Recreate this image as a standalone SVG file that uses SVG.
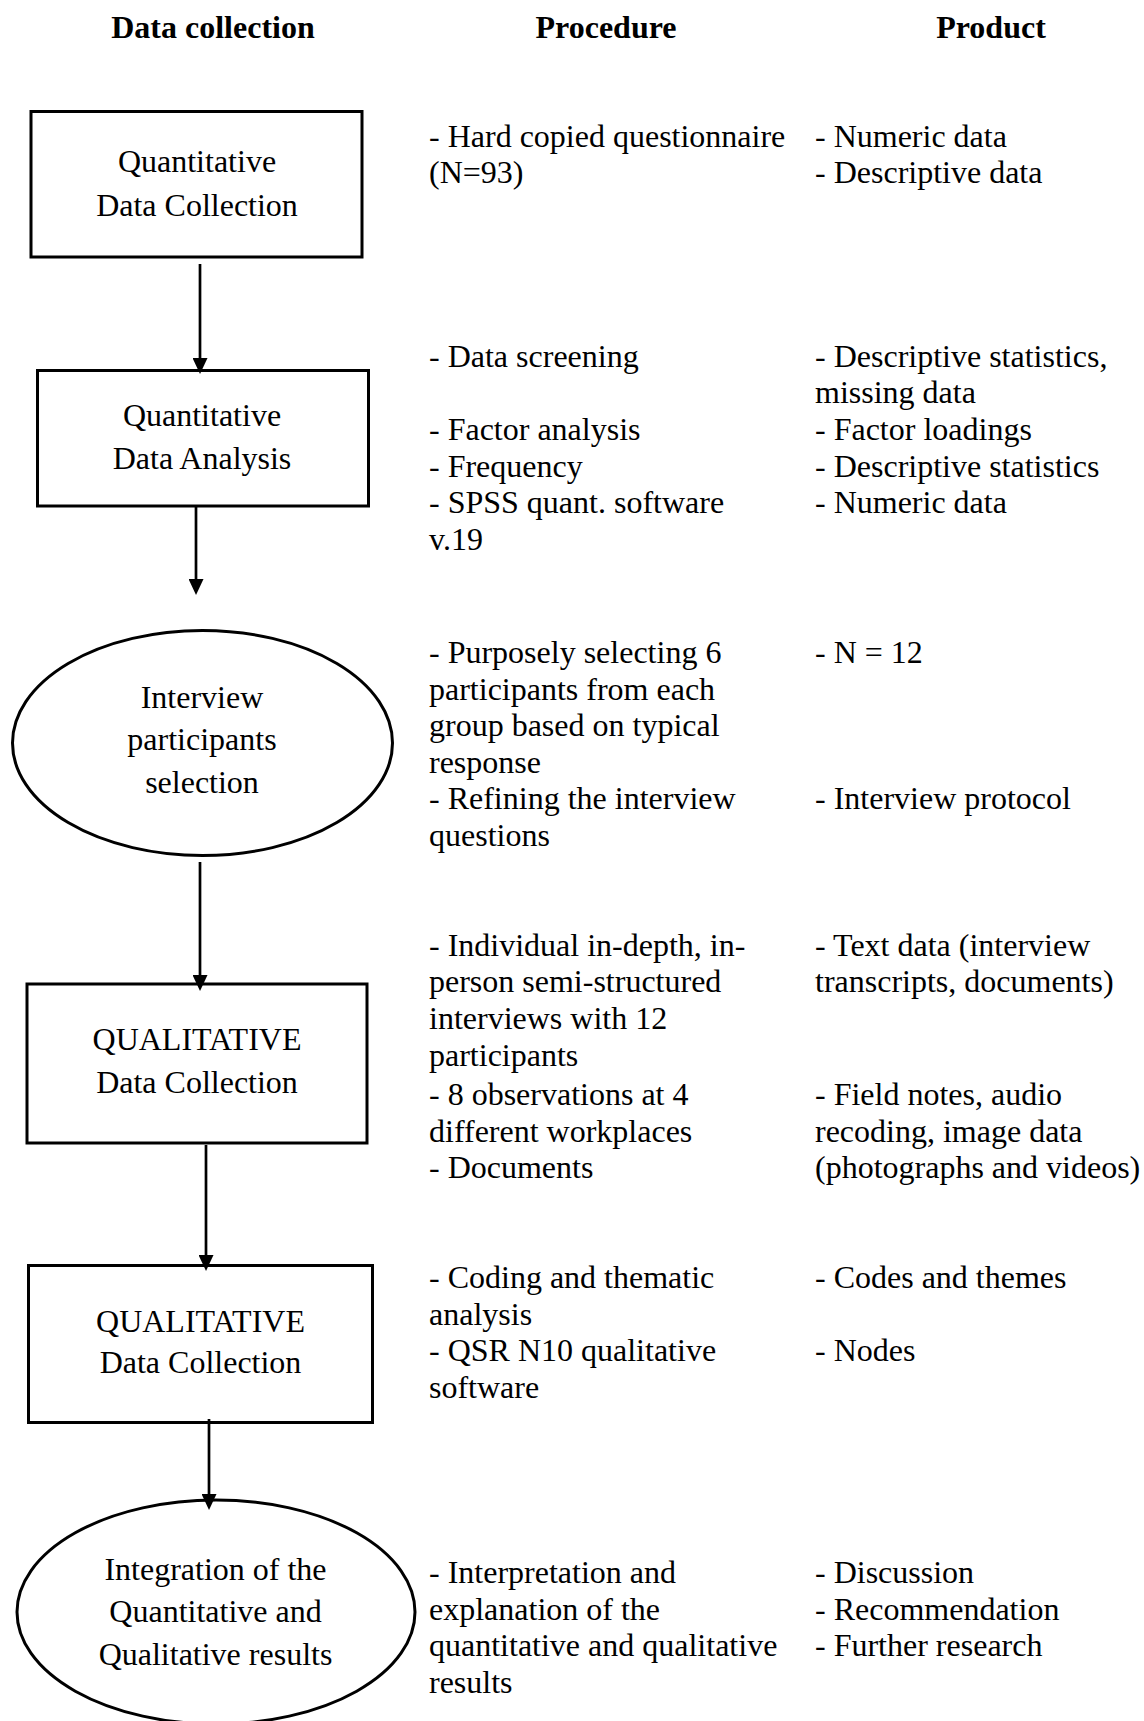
<svg xmlns="http://www.w3.org/2000/svg" width="1144" height="1721" viewBox="0 0 1144 1721">
<style>
text{font-family:"Liberation Serif","Times New Roman",serif;font-size:32px;fill:#000}
.h{font-weight:bold;text-anchor:middle}
.c{text-anchor:middle}
.shape{fill:#fff;stroke:#000;stroke-width:3}
.conn line{stroke:#000;stroke-width:2.7;marker-end:url(#ah)}
</style>
<defs>
<marker id="ah" markerUnits="userSpaceOnUse" viewBox="0 -7.5 16 15" refX="4" refY="0" markerWidth="16" markerHeight="15" orient="auto">
<path d="M0,-7.5 L16,0 L0,7.5 z" fill="#000"/>
</marker>
</defs>
<rect width="1144" height="1721" fill="#fff"/>
<g id="headers">
<text class="h" x="213" y="38">Data collection</text>
<text class="h" x="606" y="38">Procedure</text>
<text class="h" x="991" y="38">Product</text>
</g>
<g id="n1">
<rect class="shape" x="31" y="111.5" width="331" height="145.5"/>
<text class="c" x="197" y="172">Quantitative</text>
<text class="c" x="197" y="215.5">Data Collection</text>
</g>
<g id="n2">
<rect class="shape" x="37.5" y="370.5" width="331" height="135.5"/>
<text class="c" x="202" y="426">Quantitative</text>
<text class="c" x="202" y="469">Data Analysis</text>
</g>
<g id="n3">
<ellipse class="shape" cx="202.5" cy="743" rx="190" ry="112.5"/>
<text class="c" x="202" y="707.5">Interview</text>
<text class="c" x="202" y="750">participants</text>
<text class="c" x="202" y="793">selection</text>
</g>
<g id="n4">
<rect class="shape" x="27" y="984" width="340" height="159"/>
<text class="c" x="197" y="1050">QUALITATIVE</text>
<text class="c" x="197" y="1093">Data Collection</text>
</g>
<g id="n5">
<rect class="shape" x="28.5" y="1265.5" width="344" height="157"/>
<text class="c" x="200.5" y="1332">QUALITATIVE</text>
<text class="c" x="200.5" y="1373">Data Collection</text>
</g>
<g id="n6">
<ellipse class="shape" cx="216" cy="1612" rx="199" ry="112"/>
<text class="c" x="215.5" y="1580">Integration of the</text>
<text class="c" x="215.5" y="1622">Quantitative and</text>
<text class="c" x="215.5" y="1665">Qualitative results</text>
</g>
<g class="conn" id="connectors">
<line x1="200" y1="264" x2="200" y2="362"/>
<line x1="196" y1="507" x2="196" y2="583"/>
<line x1="200" y1="862" x2="200" y2="979"/>
<line x1="206" y1="1145" x2="206" y2="1259"/>
<line x1="209" y1="1419" x2="209" y2="1498"/>
</g>
<g id="procedure">
<text x="429" y="146.7">- Hard copied questionnaire</text>
<text x="429" y="183.3">(N=93)</text>
<text x="429" y="366.5">- Data screening</text>
<text x="429" y="439.9">- Factor analysis</text>
<text x="429" y="476.6">- Frequency</text>
<text x="429" y="513.3">- SPSS quant. software</text>
<text x="429" y="550">v.19</text>
<text x="429" y="663">- Purposely selecting 6</text>
<text x="429" y="699.6">participants from each</text>
<text x="429" y="736.2">group based on typical</text>
<text x="429" y="772.8">response</text>
<text x="429" y="809.4">- Refining the interview</text>
<text x="429" y="846">questions</text>
<text x="429" y="955.5">- Individual in-depth, in-</text>
<text x="429" y="992">person semi-structured</text>
<text x="429" y="1028.5">interviews with 12</text>
<text x="429" y="1065.5">participants</text>
<text x="429" y="1105">- 8 observations at 4</text>
<text x="429" y="1141.5">different workplaces</text>
<text x="429" y="1178">- Documents</text>
<text x="429" y="1288">- Coding and thematic</text>
<text x="429" y="1324.6">analysis</text>
<text x="429" y="1361.2">- QSR N10 qualitative</text>
<text x="429" y="1397.8">software</text>
<text x="429" y="1583">- Interpretation and</text>
<text x="429" y="1619.6">explanation of the</text>
<text x="429" y="1656.2">quantitative and qualitative</text>
<text x="429" y="1692.8">results</text>
</g>
<g id="product">
<text x="815" y="146.7">- Numeric data</text>
<text x="815" y="183.3">- Descriptive data</text>
<text x="815" y="366.5">- Descriptive statistics,</text>
<text x="815" y="403.2">missing data</text>
<text x="815" y="439.9">- Factor loadings</text>
<text x="815" y="476.6">- Descriptive statistics</text>
<text x="815" y="513.3">- Numeric data</text>
<text x="815" y="663">- N = 12</text>
<text x="815" y="809.4">- Interview protocol</text>
<text x="815" y="955.5">- Text data (interview</text>
<text x="815" y="992">transcripts, documents)</text>
<text x="815" y="1105">- Field notes, audio</text>
<text x="815" y="1141.5">recoding, image data</text>
<text x="815" y="1178">(photographs and videos)</text>
<text x="815" y="1288">- Codes and themes</text>
<text x="815" y="1361.2">- Nodes</text>
<text x="815" y="1583">- Discussion</text>
<text x="815" y="1619.6">- Recommendation</text>
<text x="815" y="1656.2">- Further research</text>
</g>
</svg>
